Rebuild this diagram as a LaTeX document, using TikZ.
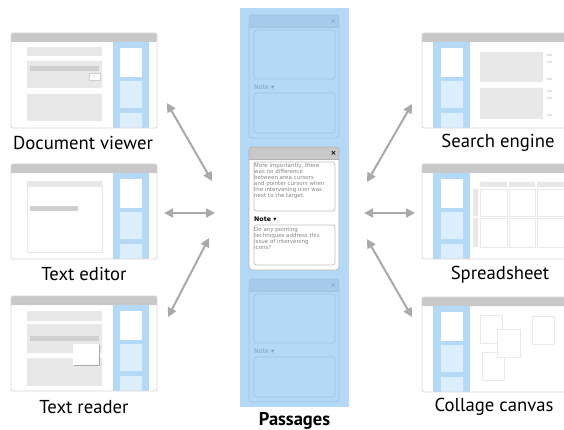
\documentclass[tikz,border=0pt]{standalone}
\usepackage{fontspec}
\setmainfont{PT Sans}
\newfontfamily\cardfont{DejaVu Sans}
\newfontfamily\symfont{DejaVu Sans}
\usetikzlibrary{arrows.meta,positioning}

\definecolor{sideblue}{HTML}{B4D9F7}
\definecolor{paleblue}{HTML}{DCEDFC}
\definecolor{bargray}{HTML}{C8C8C8}
\definecolor{framegray}{HTML}{D8D8D8}
\definecolor{blockgray}{HTML}{E8E8E8}
\definecolor{rulegray}{HTML}{CFCFCF}
\definecolor{cellgray}{HTML}{E9E9E9}
\definecolor{arrowgray}{HTML}{A9A9A9}
\definecolor{cardblue}{HTML}{9EC3E2}
\definecolor{cardbarblue}{HTML}{A6CBEA}
\definecolor{notetext}{HTML}{7F9DB8}
\definecolor{quotegray}{HTML}{858585}

\begin{document}
\begin{tikzpicture}[x=1pt,y=-1pt]
    \tikzset{
        winframe/.style={draw=framegray, line width=0.8pt, rounded corners=2pt},
        block/.style={fill=blockgray},
        rulebar/.style={fill=rulegray},
        cell/.style={fill=white, draw=cellgray, line width=0.7pt},
        link/.style={draw=arrowgray, line width=2pt,
            {Triangle[length=9pt,width=9pt]}-{Triangle[length=9pt,width=9pt]}},
        winlabel/.style={font=\fontsize{18.7}{20}\selectfont, inner sep=0pt},
        cardbody/.style={fill=sideblue},
        cardline/.style={draw=cardblue, line width=0.7pt},
        cardbar/.style={fill=cardbarblue},
        cardbox/.style={draw=cardblue, line width=0.7pt, rounded corners=2.5pt},
        cardnote/.style={text=notetext, font=\cardfont\fontsize{6.3}{7}\selectfont, inner sep=0pt},
        cardx/.style={text=notetext, font=\cardfont\fontsize{7}{8}\selectfont, inner sep=0pt},
        quote/.style={text=quotegray, font=\cardfont\fontsize{5.5}{5.9}\selectfont,
            align=left, inner sep=1pt, anchor=north west},
        appwinL/.pic={
            \fill[white, rounded corners=2pt] (0,0) rectangle (146,95);
            \fill[bargray, rounded corners=2pt] (0,0) rectangle (146,9);
            \fill[bargray] (0,5) rectangle (146,9);
            \fill[sideblue] (102,9) rectangle (138,95);
            \fill[white] (109,15) rectangle (131,44);
            \fill[paleblue] (109,48) rectangle (131,75) (109,80) rectangle (131,95);
            \draw[winframe] (0,0) rectangle (146,95);
        },
        appwinR/.pic={
            \fill[white, rounded corners=2pt] (0,0) rectangle (150,95);
            \fill[bargray, rounded corners=2pt] (0,0) rectangle (150,9);
            \fill[bargray] (0,5) rectangle (150,9);
            \fill[sideblue] (11,9) rectangle (48,95);
            \fill[white] (19,15) rectangle (41,44);
            \fill[paleblue] (19,48) rectangle (41,75) (19,80) rectangle (41,95);
            \draw[winframe] (0,0) rectangle (150,95);
        },
        notecard/.pic={
            \fill[cardbody, rounded corners=3pt] (0,0) rectangle (90,123);
            \fill[cardbar, rounded corners=3pt] (0,0) rectangle (90,12);
            \fill[cardbar] (0,8) rectangle (90,12);
            \draw[cardline, rounded corners=3pt] (0,0) rectangle (90,123);
            \draw[cardline] (0,12) -- (90,12);
            \node[cardx] (-x) at (84.5,6) {×};
            \draw[cardbox] (5,15) rectangle (86,64);
            \node[cardnote, anchor=west] (-note) at (5,72) {Note {\symfont ▾}};
            \draw[cardbox] (5,78) rectangle (86,118);
        }
    }
    \useasboundingbox (0,0) rectangle (564,430);

    % window positions
    \path (11,33) coordinate (docview) (11,164) coordinate (editor) (11,296) coordinate (reader);
    \path (422,33) coordinate (search) (422,164) coordinate (sheet) (422,297) coordinate (collage);

    % left side
    \pic at (docview) {appwinL};
    \begin{scope}[shift={(docview)}]
        \fill[block] (16,14) rectangle (91,23) (16,28) rectangle (91,55) (16,61) rectangle (91,88);
        \fill[rulebar] (19,33) rectangle (88,38);
        \draw[fill=white, draw=rulegray, line width=0.5pt] (78,40) rectangle (89,47);
        \node[text=rulegray, font=\fontsize{6}{6}\selectfont, inner sep=0pt] (plus) at (83.5,43.5) {+};
    \end{scope}
    \node[winlabel] (docview-lbl) at (83,143) {Document viewer};

    \pic at (editor) {appwinL};
    \begin{scope}[shift={(editor)}]
        \fill[block] (16,17) rectangle (91,22);
        \draw[draw=blockgray, line width=0.8pt] (16,22) rectangle (91,88);
        \fill[rulebar] (19,42) rectangle (67,47);
    \end{scope}
    \node[winlabel] (editor-lbl) at (84,274) {Text editor};

    \pic at (reader) {appwinL};
    \begin{scope}[shift={(reader)}]
        \fill[block] (16,15) rectangle (91,25) (16,28) rectangle (91,57) (16,62) rectangle (91,90);
        \fill[rulebar] (19,40) rectangle (88,45);
        \fill[black!35] (63.2,49.2) rectangle (89.2,70.2);
        \fill[white] (62,48) rectangle (88,69);
    \end{scope}
    \node[winlabel] (reader-lbl) at (84,407) {Text reader};

    % right side
    \begin{scope}
        \clip (0,0) rectangle (564,430);
        \pic at (search) {appwinR};
        \pic at (sheet) {appwinR};
        \pic at (collage) {appwinR};
    \end{scope}
    \begin{scope}[shift={(search)}]
        \fill[block] (58,19) rectangle (121,49) (58,55) rectangle (121,86);
        \fill[blockgray!70!black!30] (125,21) rectangle (130,23) (125,28) rectangle (130,30) (125,45) rectangle (130,47)
            (125,57) rectangle (130,59) (125,64) rectangle (130,66) (125,81) rectangle (130,83);
    \end{scope}
    \node[winlabel] (search-lbl) at (498,143) {Search engine};

    \begin{scope}[shift={(sheet)}]
        \fill[block] (58,18) rectangle (85,23) (87,18) rectangle (113,23) (115,18) rectangle (145,23);
        \fill[block] (51,25) rectangle (56,52.5) (51,54) rectangle (56,83);
        \draw[cell] (58,25) rectangle (85,52) (87,25) rectangle (113,52) (115,25) rectangle (145,52)
            (58,54) rectangle (85,83) (87,54) rectangle (113,83) (115,54) rectangle (145,83);
    \end{scope}
    \node[winlabel] (sheet-lbl) at (500,275) {Spreadsheet};

    \begin{scope}[shift={(collage)}]
        \draw[cell] (58,18) rectangle (80,46) (60,55) rectangle (82,83) (110,19) rectangle (132,47);
        \draw[cell] (75,32) rectangle (98,60);
    \end{scope}
    \node[winlabel] (collage-lbl) at (494,407) {Collage canvas};

    % passages column
    \node[fill=sideblue, minimum width=109, minimum height=399, inner sep=0pt, anchor=north west] (passcol) at (240,8) {};
    \node[winlabel, font=\bfseries\fontsize{18.5}{20}\selectfont] (passcol-lbl) at (294.5,421) {Passages};

    \pic (top) at (249,15) {notecard};
    \pic (bot) at (249,279) {notecard};
    \pic[cardbody/.style={fill=white}, cardline/.style={draw=black!30, line width=0.7pt},
         cardbar/.style={fill=bargray}, cardbox/.style={draw=black!25, line width=0.7pt, rounded corners=2.5pt},
         cardnote/.style={text=black, font=\cardfont\bfseries\fontsize{6.3}{7}\selectfont, inner sep=0pt},
         cardx/.style={text=black, font=\cardfont\bfseries\fontsize{7}{8}\selectfont, inner sep=0pt}]
        (mid) at (249,147) {notecard};
    \node[quote] (mid-quote) at (253,162.5) {More importantly, there\\was no difference\\between area cursors\\and pointer cursors when\\the intervening icon was\\next to the target.};
    \node[quote] (mid-reply) at (253,226) {Do any pointing\\techniques address this\\issue of intervening\\icons?};

    % connectors
    \path (167,103) coordinate (l1a) (212,181) coordinate (l1b)
          (164,213) coordinate (l2a) (215,213) coordinate (l2b)
          (209,238) coordinate (l3a) (168,317) coordinate (l3b);
    \path (412,104) coordinate (r1a) (367,182) coordinate (r1b)
          (364,213) coordinate (r2a) (415,213) coordinate (r2b)
          (367,239) coordinate (r3a) (412,317) coordinate (r3b);
    \foreach \a/\b in {l1a/l1b, l2a/l2b, l3a/l3b, r1a/r1b, r2a/r2b, r3a/r3b}
        \draw[link] (\a) -- (\b);
\end{tikzpicture}
\end{document}
